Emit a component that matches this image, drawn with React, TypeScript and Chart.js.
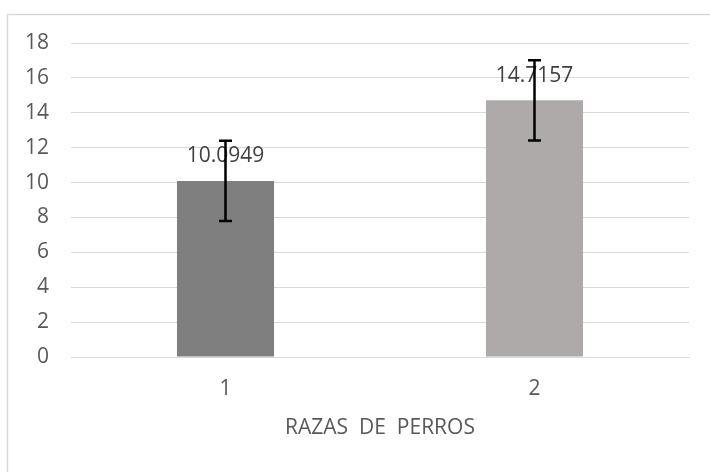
import React, { useEffect, useRef } from "react";
import { Chart, registerables } from "chart.js";

Chart.register(...registerables);

const categories = ["1", "2"];
const means = [10.0949, 14.7157];
const errors = [2.3, 2.3];
const barColors = ["#7F7F7F", "#AEAAAA"];
const dataLabels = ["10.0949", "14.7157"];
const axisTitle = "RAZAS  DE  PERROS";
const yMin = 0;
const yMax = 18;
const yStep = 2;

const FONT = "'Open Sans', 'DejaVu Sans', sans-serif";

const borderPlugin = {
  id: "outerBorder",
  beforeDraw(chart: any) {
    const ctx = chart.ctx;
    ctx.save();
    ctx.fillStyle = "#ffffff";
    ctx.fillRect(0, 0, chart.width, chart.height);
    ctx.strokeStyle = "#d9d9d9";
    ctx.lineWidth = 1.5;
    ctx.strokeRect(7.5, 14.5, chart.width + 20, chart.height + 20);
    ctx.restore();
  },
};

const labelsAndErrors = {
  id: "labelsAndErrors",
  afterDatasetsDraw(chart: any) {
    const ctx = chart.ctx;
    const meta = chart.getDatasetMeta(0);
    const yScale = chart.scales.y;
    ctx.save();
    ctx.font = `21px ${FONT}`;
    ctx.fillStyle = "#404040";
    ctx.textAlign = "center";
    ctx.textBaseline = "alphabetic";
    meta.data.forEach((el: any, i: number) => {
      ctx.fillText(dataLabels[i], el.x, el.y - 18.5);
    });
    ctx.strokeStyle = "#000000";
    ctx.lineWidth = 2.5;
    meta.data.forEach((el: any, i: number) => {
      const top = yScale.getPixelForValue(means[i] + errors[i]);
      const bot = yScale.getPixelForValue(means[i] - errors[i]);
      const x = el.x;
      ctx.beginPath();
      ctx.moveTo(x, top);
      ctx.lineTo(x, bot);
      ctx.moveTo(x - 6.5, top);
      ctx.lineTo(x + 6.5, top);
      ctx.moveTo(x - 6.5, bot);
      ctx.lineTo(x + 6.5, bot);
      ctx.stroke();
    });
    ctx.restore();
  },
};

export default function App() {
  const ref = useRef<HTMLCanvasElement | null>(null);
  useEffect(() => {
    if (!ref.current) return;
    const chart = new Chart(ref.current, {
      type: "bar",
      data: {
        labels: categories,
        datasets: [
          {
            data: means,
            backgroundColor: barColors,
            borderWidth: 0,
            barPercentage: 0.314,
            categoryPercentage: 1,
          },
        ],
      },
      options: {
        responsive: false,
        animation: false,
        devicePixelRatio: 1,
        layout: { padding: { left: 0, right: 21, top: 43, bottom: 0 } },
        plugins: {
          legend: { display: false },
          tooltip: { enabled: false },
        },
        scales: {
          x: {
            grid: { display: false, drawTicks: false },
            border: { display: true, color: "#d9d9d9", width: 1 },
            ticks: {
              padding: 19,
              color: "#595959",
              font: { family: FONT, size: 21 },
            },
            title: {
              display: true,
              text: axisTitle,
              color: "#595959",
              font: { family: FONT, size: 21 },
              padding: { top: 0, bottom: 31 },
            },
            afterFit(scale: any) {
              scale.height = 115;
            },
          },
          y: {
            min: yMin,
            max: yMax,
            ticks: {
              stepSize: yStep,
              padding: 22,
              color: "#595959",
              font: { family: FONT, size: 21 },
            },
            grid: { color: "#d9d9d9", lineWidth: 1, drawTicks: false },
            border: { display: false },
            afterFit(scale: any) {
              scale.width = 71;
            },
          },
        },
      },
      plugins: [borderPlugin, labelsAndErrors],
    });
    return () => chart.destroy();
  }, []);
  return (
    <div style={{ position: "fixed", left: 0, top: 0, width: 710, height: 472, background: "#fff" }}>
      <canvas ref={ref} width={710} height={472} style={{ width: 710, height: 472, display: "block" }} />
    </div>
  );
}
